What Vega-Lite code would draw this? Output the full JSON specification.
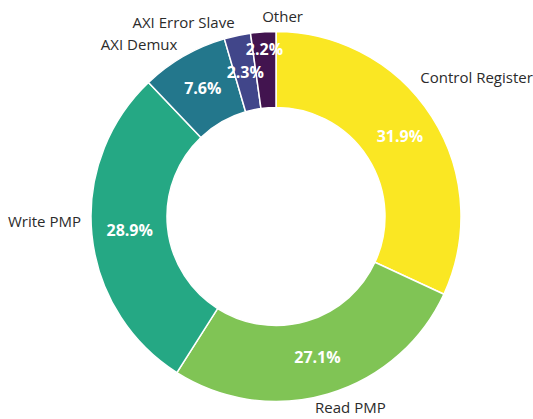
{
  "$schema": "https://vega.github.io/schema/vega-lite/v6.json",
  "width": 514,
  "height": 407,
  "padding": {"left": 19, "top": 13, "right": 0, "bottom": 0},
  "autosize": {"type": "none"},
  "background": "white",
  "config": {"view": {"stroke": null}, "font": "Open Sans"},
  "data": {
    "values": [
      {"name": "Control Register", "pct": 31.9, "rank": 1},
      {"name": "Read PMP", "pct": 27.1, "rank": 2},
      {"name": "Write PMP", "pct": 28.9, "rank": 3},
      {"name": "AXI Demux", "pct": 7.6, "rank": 4},
      {"name": "AXI Error Slave", "pct": 2.3, "rank": 5},
      {"name": "Other", "pct": 2.2, "rank": 6}
    ]
  },
  "transform": [
    {"calculate": "format(datum.pct, '.1f') + '%'", "as": "label"}
  ],
  "encoding": {
    "theta": {"field": "pct", "type": "quantitative", "stack": true},
    "order": {"field": "rank", "type": "quantitative", "sort": "ascending"}
  },
  "layer": [
    {
      "mark": {"type": "arc", "innerRadius": 109, "outerRadius": 185, "stroke": "white", "strokeWidth": 1.5},
      "encoding": {
        "color": {
          "field": "name", "type": "nominal", "legend": null,
          "scale": {
            "domain": ["Control Register", "Read PMP", "Write PMP", "AXI Demux", "AXI Error Slave", "Other"],
            "range": ["#fae723", "#80c455", "#25a884", "#23778c", "#41468a", "#42144f"]
          }
        }
      }
    },
    {
      "mark": {"type": "text", "radius": 147, "fontSize": 16, "fontWeight": "bold", "color": "white"},
      "encoding": {
        "text": {"condition": {"test": "datum.name !== 'Other'", "field": "label"}, "value": ""}
      }
    },
    {
      "mark": {"type": "text", "radius": 167, "fontSize": 16, "fontWeight": "bold", "color": "white"},
      "encoding": {
        "text": {"condition": {"test": "datum.name === 'Other'", "field": "label"}, "value": ""}
      }
    },
    {
      "mark": {"type": "text", "radius": 198, "fontSize": 15, "color": "#2b2b2b", "align": "right", "baseline": "middle"},
      "encoding": {
        "text": {
          "condition": {"test": "indexof(['AXI Demux','AXI Error Slave'], datum.name) >= 0", "field": "name"},
          "value": ""
        }
      }
    },
    {
      "mark": {"type": "text", "radius": 196, "fontSize": 15, "color": "#2b2b2b", "align": "right", "baseline": "middle", "dy": -14},
      "encoding": {
        "text": {"condition": {"test": "datum.name === 'Write PMP'", "field": "name"}, "value": ""}
      }
    },
    {
      "mark": {"type": "text", "radius": 200, "fontSize": 15, "color": "#2b2b2b", "align": "left", "baseline": "middle"},
      "encoding": {
        "text": {"condition": {"test": "datum.name === 'Other'", "field": "name"}, "value": ""}
      }
    },
    {
      "mark": {"type": "text", "radius": 238, "fontSize": 15, "color": "#2b2b2b", "align": "center", "baseline": "middle", "dy": -10},
      "encoding": {
        "text": {"condition": {"test": "datum.name === 'Control Register'", "field": "name"}, "value": ""}
      }
    },
    {
      "mark": {"type": "text", "radius": 200, "fontSize": 15, "color": "#2b2b2b", "align": "center", "baseline": "middle", "dx": 18},
      "encoding": {
        "text": {"condition": {"test": "datum.name === 'Read PMP'", "field": "name"}, "value": ""}
      }
    }
  ]
}
